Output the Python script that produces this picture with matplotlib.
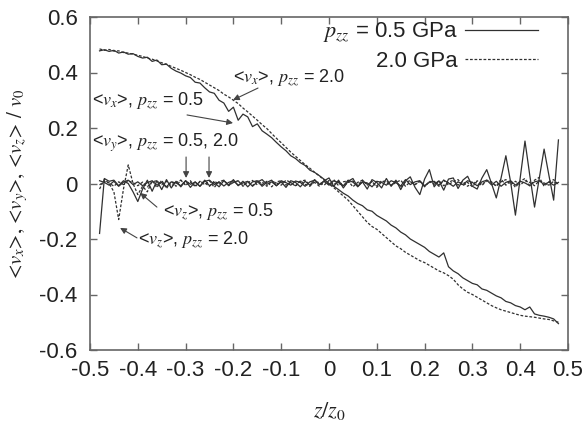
import matplotlib
matplotlib.use("Agg")
import matplotlib.pyplot as plt
from matplotlib.lines import Line2D

plt.rcParams['font.family'] = ['Liberation Sans', 'DejaVu Sans']
plt.rcParams['mathtext.fontset'] = 'stix'

# bin centres z/z0
z = [-0.48, -0.47, -0.46, -0.45, -0.44, -0.43, -0.42, -0.41, -0.40, -0.39,
     -0.38, -0.37, -0.36, -0.35, -0.34, -0.33, -0.32, -0.31, -0.30, -0.29,
     -0.28, -0.27, -0.26, -0.25, -0.24, -0.23, -0.22, -0.21, -0.20, -0.19,
     -0.18, -0.17, -0.16, -0.15, -0.14, -0.13, -0.12, -0.11, -0.10, -0.09,
     -0.08, -0.07, -0.06, -0.05, -0.04, -0.03, -0.02, -0.01, 0.00, 0.01,
     0.02, 0.03, 0.04, 0.05, 0.06, 0.07, 0.08, 0.09, 0.10, 0.11,
     0.12, 0.13, 0.14, 0.15, 0.16, 0.17, 0.18, 0.19, 0.20, 0.21,
     0.22, 0.23, 0.24, 0.25, 0.26, 0.27, 0.28, 0.29, 0.30, 0.31,
     0.32, 0.33, 0.34, 0.35, 0.36, 0.37, 0.38, 0.39, 0.40, 0.41,
     0.42, 0.43, 0.44, 0.45, 0.46, 0.47, 0.48]

# <vx>, pzz = 0.5 GPa
vx_05 = [0.478, 0.482, 0.476, 0.480, 0.470, 0.474, 0.466, 0.468, 0.458, 0.452,
         0.455, 0.440, 0.445, 0.428, 0.430, 0.415, 0.405, 0.398, 0.388, 0.382,
         0.365, 0.362, 0.345, 0.330, 0.325, 0.300, 0.290, 0.260, 0.275, 0.228,
         0.250, 0.240, 0.205, 0.215, 0.190, 0.178, 0.165, 0.148, 0.132, 0.118,
         0.100, 0.090, 0.075, 0.065, 0.048, 0.040, 0.028, 0.015, 0.000, -0.010,
         -0.022, -0.035, -0.045, -0.060, -0.072, -0.080, -0.095, -0.100, -0.115, -0.125,
         -0.135, -0.150, -0.160, -0.175, -0.185, -0.200, -0.210, -0.220, -0.230, -0.245,
         -0.255, -0.265, -0.250, -0.300, -0.315, -0.325, -0.340, -0.350, -0.360, -0.365,
         -0.380, -0.385, -0.395, -0.405, -0.412, -0.425, -0.430, -0.440, -0.445, -0.455,
         -0.445, -0.470, -0.475, -0.478, -0.482, -0.488, -0.505]

# <vx>, pzz = 2.0 GPa
vx_20 = [0.485, 0.480, 0.483, 0.477, 0.478, 0.472, 0.470, 0.466, 0.462, 0.458,
         0.452, 0.448, 0.442, 0.435, 0.430, 0.422, 0.415, 0.408, 0.400, 0.392,
         0.383, 0.375, 0.365, 0.355, 0.345, 0.335, 0.322, 0.312, 0.300, 0.288,
         0.272, 0.258, 0.243, 0.228, 0.212, 0.198, 0.180, 0.163, 0.147, 0.130,
         0.113, 0.098, 0.083, 0.068, 0.055, 0.040, 0.027, 0.012, -0.002, -0.015,
         -0.030, -0.045, -0.060, -0.080, -0.100, -0.120, -0.140, -0.155, -0.165, -0.180,
         -0.195, -0.210, -0.225, -0.235, -0.248, -0.258, -0.268, -0.278, -0.285, -0.295,
         -0.305, -0.315, -0.322, -0.332, -0.345, -0.365, -0.380, -0.392, -0.400, -0.410,
         -0.420, -0.430, -0.440, -0.448, -0.455, -0.460, -0.465, -0.470, -0.475, -0.478,
         -0.480, -0.482, -0.485, -0.488, -0.490, -0.495, -0.500]

# <vy>, both pressures
vy_05 = [0.010, 0.004, -0.006, 0.008, -0.010, 0.005, 0.012, -0.004, 0.006, -0.008,
         0.003, 0.010, -0.006, 0.004, -0.012, 0.006, 0.002, -0.008, 0.010, -0.003,
         0.005, -0.010, 0.008, 0.012, -0.004, 0.006, -0.009, 0.004, 0.010, -0.006,
         0.002, 0.008, -0.010, 0.005, 0.014, -0.003, 0.006, -0.008, 0.010, 0.003,
         -0.006, 0.009, 0.004, -0.010, 0.006, 0.012, -0.004, 0.008, -0.006, 0.010,
         0.003, -0.008, 0.012, 0.005, -0.010, 0.006, 0.002, -0.012, 0.008, 0.004,
         -0.006, 0.010, 0.003, -0.009, 0.014, -0.004, 0.006, 0.010, -0.008, 0.004,
         0.008, -0.006, 0.012, 0.002, -0.010, 0.006, -0.004, 0.010, 0.004, -0.008,
         0.006, 0.012, -0.005, 0.008, -0.010, 0.004, 0.010, -0.006, 0.008, 0.002,
         -0.008, 0.006, 0.010, -0.004, 0.005, -0.006, 0.004]

vy_20 = [-0.005, 0.008, 0.002, -0.010, 0.006, -0.004, 0.010, 0.003, -0.008, 0.005,
         -0.012, 0.006, 0.010, -0.004, 0.008, -0.009, 0.003, 0.012, -0.006, 0.004,
         -0.008, 0.006, 0.002, -0.010, 0.009, -0.003, 0.012, -0.006, 0.004, 0.010,
         -0.007, 0.003, 0.011, -0.005, 0.006, -0.010, 0.008, 0.002, -0.006, 0.012,
         0.004, -0.008, 0.010, -0.003, -0.010, 0.007, 0.003, -0.006, 0.011, -0.004,
         0.008, -0.010, 0.004, 0.009, -0.006, 0.012, -0.003, 0.006, -0.009, 0.010,
         0.002, -0.006, 0.008, -0.012, 0.005, 0.010, -0.004, 0.007, -0.010, 0.006,
         -0.003, 0.010, -0.008, 0.004, 0.012, -0.006, 0.008, -0.010, 0.005, 0.002,
         -0.007, 0.010, 0.004, -0.009, 0.006, 0.014, -0.004, 0.008, -0.006, 0.010,
         0.004, -0.008, 0.010, 0.002, -0.006, 0.008, -0.004]

# <vz>, both pressures
vz_05 = [-0.180, 0.018, 0.008, 0.012, -0.008, 0.010, 0.000, -0.030, -0.065, -0.020,
         0.012, -0.028, 0.010, -0.022, 0.014, -0.016, 0.008, -0.012, 0.010, -0.014,
         0.006, -0.010, 0.012, -0.008, 0.004, -0.012, 0.010, -0.006, 0.014, -0.008,
         0.008, -0.012, 0.006, 0.010, -0.010, 0.004, 0.012, -0.008, 0.006, -0.014,
         0.010, 0.004, -0.012, 0.008, -0.006, 0.014, -0.004, 0.010, 0.020, -0.010,
         0.012, -0.016, 0.008, 0.018, -0.012, 0.006, -0.020, 0.014, 0.004, -0.016,
         0.018, -0.010, 0.012, -0.022, 0.010, 0.024, -0.014, -0.040, 0.016, 0.050,
         -0.012, 0.010, -0.024, 0.016, 0.020, -0.018, 0.012, 0.026, -0.010, -0.020,
         0.020, 0.050, 0.000, -0.052, 0.020, 0.100, 0.005, -0.114, 0.020, 0.153,
         0.030, -0.085, 0.020, 0.124, 0.030, -0.060, 0.157]

vz_20 = [-0.020, 0.015, 0.000, -0.030, -0.130, -0.020, 0.067, 0.000, -0.040, -0.010,
         -0.030, 0.010, -0.015, 0.012, -0.018, 0.008, -0.010, 0.012, -0.006, 0.010,
         -0.012, 0.008, -0.004, 0.010, -0.014, 0.006, 0.012, -0.008, 0.004, 0.010,
         -0.010, 0.006, -0.008, 0.012, -0.004, 0.008, -0.012, 0.006, 0.010, -0.006,
         0.004, -0.010, 0.008, 0.012, -0.006, 0.004, -0.010, 0.008, -0.004, 0.014,
         -0.008, 0.006, 0.010, -0.012, 0.004, 0.012, -0.006, 0.008, -0.014, 0.006,
         0.010, -0.008, 0.004, 0.012, -0.010, 0.006, -0.004, 0.010, -0.012, 0.008,
         0.004, -0.010, 0.012, -0.006, 0.008, 0.014, -0.008, 0.004, -0.012, 0.010,
         -0.004, 0.012, 0.006, -0.010, 0.016, -0.006, 0.010, -0.014, 0.008, 0.018,
         -0.008, 0.012, 0.022, -0.010, 0.006, 0.014, -0.004]

xticks = [-0.5, -0.4, -0.3, -0.2, -0.1, 0, 0.1, 0.2, 0.3, 0.4, 0.5]
xticklabels = ['-0.5', '-0.4', '-0.3', '-0.2', '-0.1', '0', '0.1', '0.2', '0.3', '0.4', '0.5']
yticks = [-0.6, -0.4, -0.2, 0, 0.2, 0.4, 0.6]
yticklabels = ['-0.6', '-0.4', '-0.2', '0', '0.2', '0.4', '0.6']

line_c = '#303030'
text_c = '#222222'
frame_c = '#666666'
dash = (2.2, 1.4)

fig = plt.figure(figsize=(5.84, 4.24), dpi=100)
ax = fig.add_axes([90 / 584, 1 - 350 / 424, 478 / 584, 333 / 424])

ax.plot(z, vx_05, color=line_c, lw=0.9)
ax.plot(z, vx_20, color=line_c, lw=0.9, dashes=dash)
ax.plot(z, vy_05, color=line_c, lw=0.9)
ax.plot(z, vy_20, color=line_c, lw=0.9, dashes=dash)
ax.plot(z, vz_05, color=line_c, lw=0.9)
ax.plot(z, vz_20, color=line_c, lw=0.9, dashes=dash)

ax.set_xlim(-0.5, 0.5)
ax.set_ylim(-0.6, 0.6)
ax.set_xticks(xticks)
ax.set_xticklabels(xticklabels)
ax.set_yticks(yticks)
ax.set_yticklabels(yticklabels)
ax.tick_params(direction='in', top=True, right=True, length=5, width=1,
               color=frame_c, labelsize=16, labelcolor=text_c)
ax.tick_params(axis='x', pad=7)
ax.tick_params(axis='y', pad=9)
for s in ax.spines.values():
    s.set_color(frame_c)
    s.set_linewidth(1.2)

ax.set_xlabel('$z/z_0$', fontsize=16, color=text_c, labelpad=14)
ax.set_ylabel('<$v_x$>, <$v_y$>, <$v_z$> / $v_0$', fontsize=15, color=text_c,
              family='STIXGeneral', labelpad=7)

# annotations
fs = 13
ax.text(-0.2008, 0.380, '<$v_x$>, $p_{zz}$ = 2.0', fontsize=fs, color=text_c, va='center')
ax.text(-0.4958, 0.294, '<$v_x$>, $p_{zz}$ = 0.5', fontsize=fs, color=text_c, va='center')
ax.text(-0.4958, 0.146, '<$v_y$>, $p_{zz}$ = 0.5, 2.0', fontsize=fs, color=text_c, va='center')
ax.text(-0.347, -0.103, '<$v_z$>, $p_{zz}$ = 0.5', fontsize=fs, color=text_c, va='center')
ax.text(-0.3996, -0.204, '<$v_z$>, $p_{zz}$ = 2.0', fontsize=fs, color=text_c, va='center')

arrow = dict(arrowstyle='-|>', color='#444444', lw=0.8, mutation_scale=9,
             shrinkA=0, shrinkB=0)
ax.annotate('', xy=(-0.2008, 0.301), xytext=(-0.1485, 0.344), arrowprops=arrow)
ax.annotate('', xy=(-0.2008, 0.218), xytext=(-0.297, 0.247), arrowprops=arrow)
ax.annotate('', xy=(-0.299, 0.020), xytext=(-0.299, 0.0955), arrowprops=arrow)
ax.annotate('', xy=(-0.251, 0.020), xytext=(-0.251, 0.0955), arrowprops=arrow)
ax.annotate('', xy=(-0.395, -0.034), xytext=(-0.360, -0.085), arrowprops=arrow)
ax.annotate('', xy=(-0.437, -0.160), xytext=(-0.4017, -0.196), arrowprops=arrow)

# key
handles = [Line2D([], [], color=line_c, lw=0.9),
           Line2D([], [], color=line_c, lw=0.9, dashes=dash)]
leg = ax.legend(handles, ['$p_{zz}$ = 0.5 GPa', '2.0 GPa'], loc='upper right',
                bbox_to_anchor=(0.937, 0.99), borderaxespad=0, borderpad=0,
                frameon=False, markerfirst=False, fontsize=16, handlelength=3.3,
                handletextpad=0.3, labelspacing=0.3)
for t in leg.get_texts():
    t.set_color(text_c)

fig.savefig('out.png', dpi=100)
